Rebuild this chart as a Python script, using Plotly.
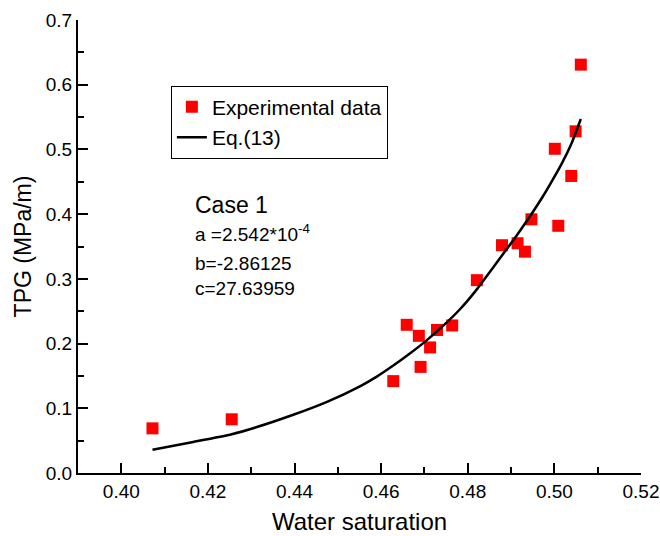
import plotly.graph_objects as go

# Experimental data
sw_exp = [0.4072, 0.4255, 0.4628, 0.4659, 0.4687, 0.4691, 0.4713, 0.4729, 0.4764,
          0.4821, 0.4879, 0.4915, 0.4932, 0.4947, 0.5001, 0.5009, 0.5039, 0.5049, 0.5061]
tpg_exp = [0.069, 0.083, 0.142, 0.229, 0.212, 0.164, 0.194, 0.221, 0.228,
           0.298, 0.352, 0.355, 0.342, 0.392, 0.501, 0.382, 0.459, 0.528, 0.631]

# Eq.(13) fitted curve
sw_fit = [0.4072, 0.4166, 0.4255, 0.4313, 0.4397, 0.4475, 0.4551, 0.4590, 0.4628,
          0.4667, 0.4705, 0.4744, 0.4782, 0.4820, 0.4859, 0.4890, 0.4913, 0.4951,
          0.4974, 0.4990, 0.5017, 0.5040, 0.5061]
tpg_fit = [0.036, 0.048, 0.060, 0.071, 0.090, 0.110, 0.134, 0.149, 0.166,
           0.185, 0.205, 0.228, 0.253, 0.283, 0.318, 0.346, 0.367, 0.404,
           0.428, 0.446, 0.478, 0.510, 0.547]

x_ticks = [0.40, 0.42, 0.44, 0.46, 0.48, 0.50, 0.52]
x_tick_labels = ["0.40", "0.42", "0.44", "0.46", "0.48", "0.50", "0.52"]
y_ticks = [0.0, 0.1, 0.2, 0.3, 0.4, 0.5, 0.6, 0.7]
y_tick_labels = ["0.0", "0.1", "0.2", "0.3", "0.4", "0.5", "0.6", "0.7"]

FONT = "Liberation Sans, Arial, sans-serif"

fig = go.Figure()
fig.add_trace(go.Scatter(
    x=sw_exp, y=tpg_exp, mode="markers", name="Experimental data",
    marker=dict(symbol="square", size=12, color="#ff0000", line=dict(width=0)),
))
fig.add_trace(go.Scatter(
    x=sw_fit, y=tpg_fit, mode="lines", name="Eq.(13)",
    line=dict(color="black", width=2.5, shape="spline", smoothing=0.6),
))

notes = [
    ("Case 1", 0.5916, 23),
    ("a =2.542*10<sup>-4</sup>", 0.530, 19),
    ("b=-2.86125", 0.463, 19),
    ("c=27.63959", 0.4077, 19),
]
for txt, yy, fs in notes:
    fig.add_annotation(
        x=0.204, y=yy, xref="paper", yref="paper", text=txt, showarrow=False,
        xanchor="left", yanchor="middle", font=dict(family=FONT, size=fs, color="black"),
    )

fig.update_layout(
    width=660, height=536,
    margin=dict(l=78, r=19, t=20, b=63),
    paper_bgcolor="white", plot_bgcolor="white",
    font=dict(family=FONT, color="black", size=19),
    showlegend=True,
    legend=dict(
        x=0.165, y=0.855, xanchor="left", yanchor="top",
        bordercolor="black", borderwidth=1, bgcolor="white",
        font=dict(family=FONT, size=21, color="black"),
        tracegroupgap=0, itemwidth=30,
    ),
    xaxis=dict(
        range=[0.39, 0.52], tickvals=x_ticks, ticktext=x_tick_labels,
        showline=True, linecolor="black", linewidth=2, mirror=False,
        ticks="inside", ticklen=10, tickwidth=2, tickcolor="black",
        minor=dict(dtick=0.01, tick0=0.39, ticks="inside", ticklen=6, tickwidth=2, tickcolor="black", showgrid=False),
        showgrid=False, zeroline=False, automargin=False,
        ticklabeloverflow="allow",
        tickfont=dict(family=FONT, size=19, color="black"),
        title=dict(text="Water saturation", font=dict(family=FONT, size=24, color="black"), standoff=12),
    ),
    yaxis=dict(
        range=[0, 0.7], tickvals=y_ticks, ticktext=y_tick_labels,
        showline=True, linecolor="black", linewidth=2, mirror=False,
        ticks="inside", ticklen=10, tickwidth=2, tickcolor="black",
        minor=dict(dtick=0.05, tick0=0, ticks="inside", ticklen=6, tickwidth=2, tickcolor="black", showgrid=False),
        showgrid=False, zeroline=False, automargin=False,
        ticklabeloverflow="allow",
        tickfont=dict(family=FONT, size=19, color="black"),
        title=dict(text="TPG (MPa/m)", font=dict(family=FONT, size=23, color="black"), standoff=8),
    ),
)

# remove the page's default body margin so the 660x536 figure fills the window exactly
fig.write_html(
    "out.html",
    config={"displayModeBar": False},
    post_script="document.body.style.margin='0';document.body.style.overflow='hidden';",
)
